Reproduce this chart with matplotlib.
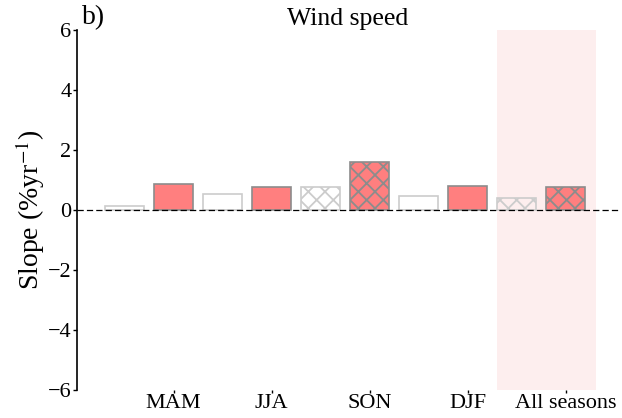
import matplotlib
matplotlib.use('Agg')
import matplotlib.pyplot as plt
import numpy as np

plt.rcParams['font.family'] = ['Liberation Serif', 'DejaVu Serif']
plt.rcParams['mathtext.fontset'] = 'stix'
plt.rcParams['hatch.linewidth'] = 1.3

# ── Data ───────────────────────────────────────────────────────────────────────
seasons      = ['MAM', 'JJA', 'SON', 'DJF', 'All seasons']
slope_first  = [0.14, 0.54, 0.77, 0.48, 0.39]   # open bars
slope_second = [0.88, 0.77, 1.59, 0.80, 0.77]   # red bars
hatched_first  = [False, False, True, False, True]
hatched_second = [False, False, True, False, True]

RED = '#ff7f7f'

fig = plt.figure(figsize=(6.22, 4.18), dpi=100)
ax = fig.add_axes([77 / 622, 28 / 418, 542 / 622, 360 / 418])

x = np.arange(len(seasons))
x_first  = 2 * x
x_second = 2 * x + 1

ax.axvspan(7.6, 9.63, color='#fdeeee', lw=0, zorder=0)
ax.axhline(0, color='black', lw=0.9, ls=(0, (5, 2.5)), zorder=3)

for xi, v, h in zip(x_first, slope_first, hatched_first):
    ax.bar(xi, v, width=0.8, facecolor='none', edgecolor='#cccccc',
           linewidth=1.2, hatch='xx' if h else None, zorder=2)
for xi, v, h in zip(x_second, slope_second, hatched_second):
    ax.bar(xi, v, width=0.8, facecolor=RED, edgecolor='#8c8c8c',
           linewidth=1.2, hatch='xx' if h else None, zorder=2)

ax.set_xlim(-0.97, 10.09)
ax.set_ylim(-6, 6)
ax.set_yticks([-6, -4, -2, 0, 2, 4, 6])
ax.set_yticklabels(['\u22126', '\u22124', '\u22122', '0', '2', '4', '6'])
ax.set_xticks(x_second)
ax.set_xticklabels(seasons, fontsize=16)
ax.tick_params(axis='y', labelsize=16, length=3, width=1, pad=1)
ax.tick_params(axis='x', length=2, width=1, pad=1)

for side in ['top', 'right', 'bottom']:
    ax.spines[side].set_visible(False)
ax.spines['left'].set_linewidth(1.2)

ax.set_ylabel('Slope (%yr$^{-1}$)', fontsize=20, labelpad=0.5)
ax.set_title('Wind speed', fontsize=18.5, pad=2)
ax.text(0.01, 1.0, 'b)', transform=ax.transAxes, fontsize=20,
        ha='left', va='bottom')

fig.savefig('out.png', dpi=100)
